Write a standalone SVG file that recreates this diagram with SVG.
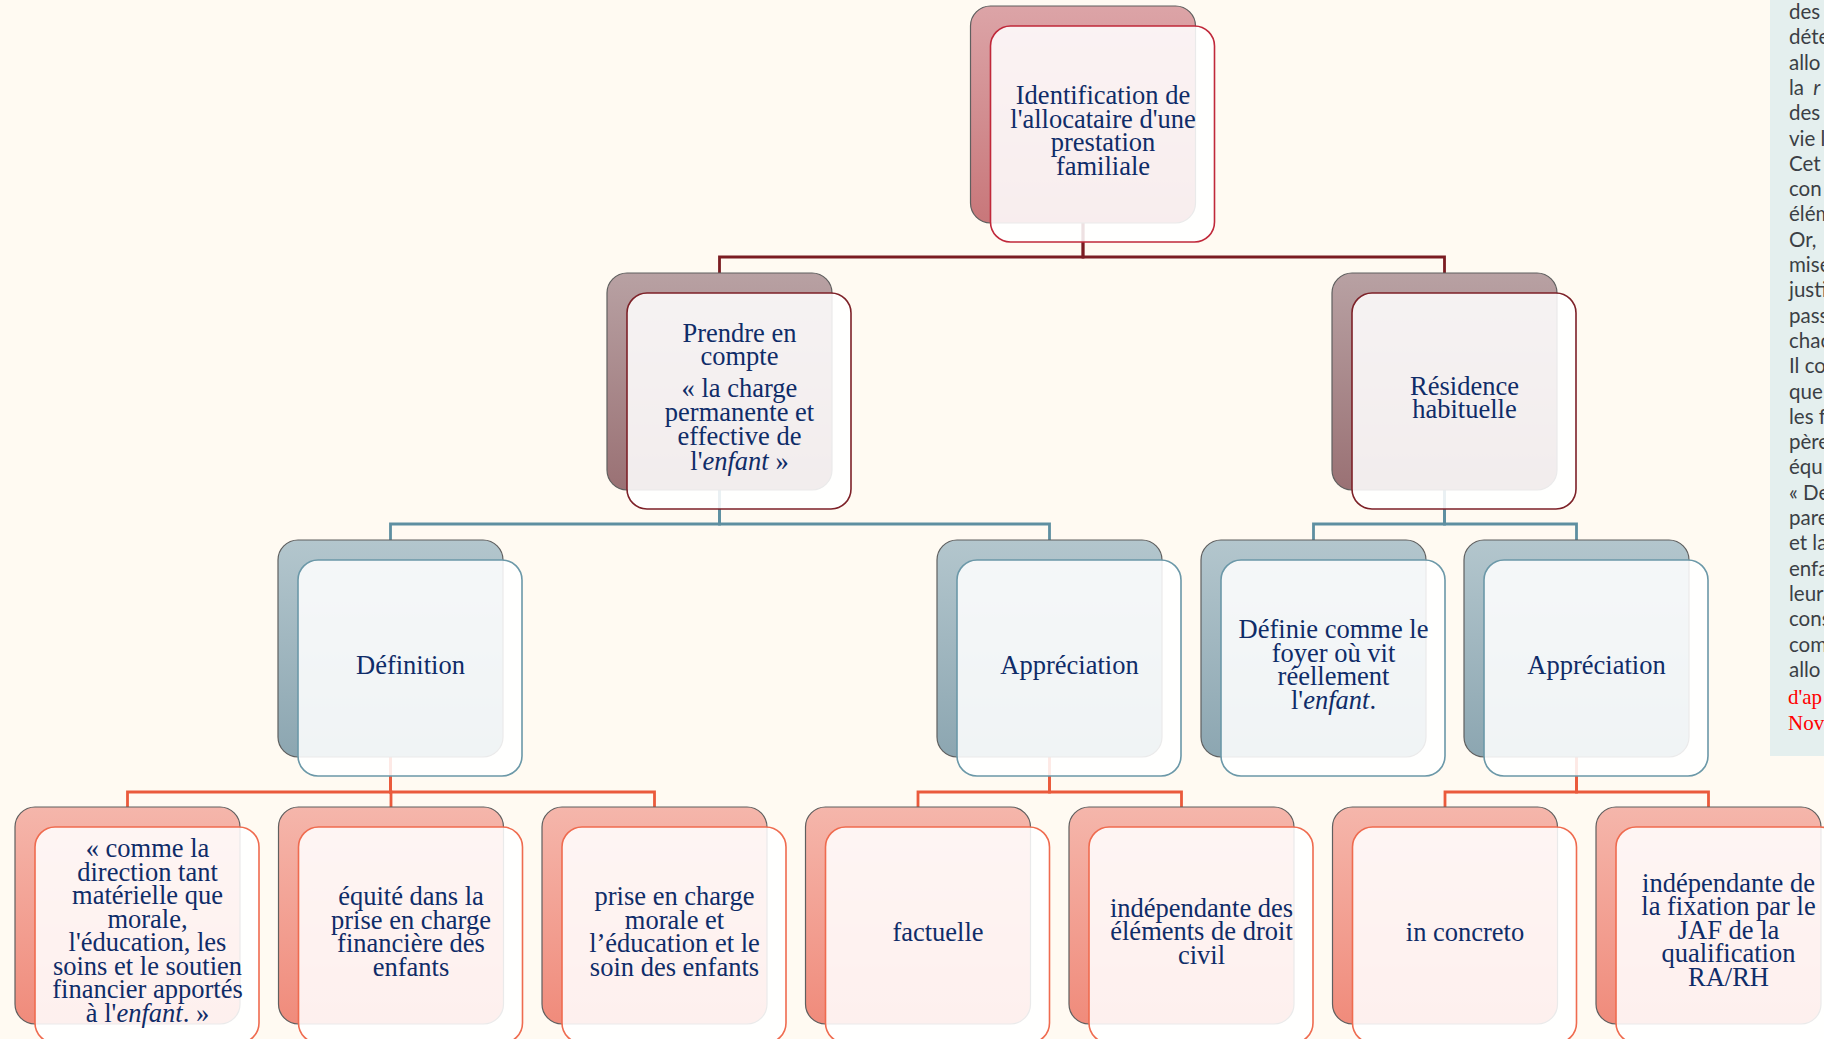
<svg xmlns="http://www.w3.org/2000/svg" width="1824" height="1039" viewBox="0 0 1824 1039">
<defs>
<linearGradient id="g1" x1="0" y1="0" x2="0" y2="1"><stop offset="0" stop-color="#dca4a7"/><stop offset="1" stop-color="#c8777a"/></linearGradient>
<linearGradient id="g2" x1="0" y1="0" x2="0" y2="1"><stop offset="0" stop-color="#b8a1a3"/><stop offset="1" stop-color="#9a7174"/></linearGradient>
<linearGradient id="g3" x1="0" y1="0" x2="0" y2="1"><stop offset="0" stop-color="#b3c6cd"/><stop offset="1" stop-color="#8ca6b1"/></linearGradient>
<linearGradient id="g4" x1="0" y1="0" x2="0" y2="1"><stop offset="0" stop-color="#f5b6ab"/><stop offset="1" stop-color="#f08b7b"/></linearGradient>
</defs>
<style>
.back{stroke:#5f5f5f;stroke-width:1.2}
.front{fill:#ffffff;fill-opacity:0.87;stroke-width:1.6}
.l1 .back{fill:url(#g1)} .l1 .front{stroke:#c0283a}
.l2 .back{fill:url(#g2)} .l2 .front{stroke:#7d2128}
.l3 .back{fill:url(#g3)} .l3 .front{stroke:#6b98a8}
.l4 .back{fill:url(#g4)} .l4 .front{stroke:#ef6b4f}
.t{font-family:"Liberation Serif","Times New Roman",serif;font-size:26.5px;fill:#0f2c68;text-anchor:middle}
.i{font-style:italic}
.c{fill:none;stroke-width:2.8}
.c1{stroke:#7b1c22}.c2{stroke:#5e8fa1}.c3{stroke:#ea5a3c}
.p{font-family:Lato,"Liberation Sans",sans-serif;font-size:20.5px;fill:#3b3f45}
.r{font-family:"Liberation Serif","Times New Roman",serif;font-size:21px;fill:#ff0000}
</style>
<rect x="0" y="0" width="1824" height="1039" fill="#fffaf2"/>
<g id="panel">
<rect x="1770" y="-2" width="60" height="758" fill="#e4efee"/>
<g class="p">
<text x="1789" y="19">des</text>
<text x="1789" y="44.3">déte</text>
<text x="1789" y="69.6">allo</text>
<text x="1789" y="94.9">la <tspan class="i" dx="4">r</tspan></text>
<text x="1789" y="120.2">des</text>
<text x="1789" y="145.5">vie l</text>
<text x="1789" y="170.8">Cet</text>
<text x="1789" y="196.1">con</text>
<text x="1789" y="221.4">élém</text>
<text x="1789" y="246.7">Or,</text>
<text x="1789" y="272">mise</text>
<text x="1789" y="297.3">justi</text>
<text x="1789" y="322.6">pass</text>
<text x="1789" y="347.9">chac</text>
<text x="1789" y="373.2">Il co</text>
<text x="1789" y="398.5">que</text>
<text x="1789" y="423.8">les f</text>
<text x="1789" y="449.1">père</text>
<text x="1789" y="474.4">équ</text>
<text x="1789" y="499.7">« De</text>
<text x="1789" y="525">pare</text>
<text x="1789" y="550.3">et la</text>
<text x="1789" y="575.6">enfa</text>
<text x="1789" y="600.9">leur</text>
<text x="1789" y="626.2">cons</text>
<text x="1789" y="651.5">com</text>
<text x="1789" y="676.8">allo</text>
</g>
<text class="r" x="1788" y="704">d'ap</text>
<text class="r" x="1788" y="730">Nov</text>
</g>
<g id="connectors">
<path class="c c1" d="M1083,223 V257 H719.5 V273"/>
<path class="c c1" d="M1083,223 V257 H1444.5 V273"/>
<path class="c c2" d="M719.5,490 V524 H390.5 V540"/>
<path class="c c2" d="M719.5,490 V524 H1049.5 V540"/>
<path class="c c2" d="M1444.5,490 V524 H1313.5 V540"/>
<path class="c c2" d="M1444.5,490 V524 H1576.5 V540"/>
<path class="c c3" d="M390.5,757 V792 H127.5 V807"/>
<path class="c c3" d="M390.5,757 V792 H391 V807"/>
<path class="c c3" d="M390.5,757 V792 H654.5 V807"/>
<path class="c c3" d="M1049.5,757 V792 H918 V807"/>
<path class="c c3" d="M1049.5,757 V792 H1181.5 V807"/>
<path class="c c3" d="M1576.5,757 V792 H1445 V807"/>
<path class="c c3" d="M1576.5,757 V792 H1708.5 V807"/>
</g>
<g id="n-identification" class="l1" transform="translate(970.5,6)">
<rect class="back" width="225" height="217" rx="20"/>
<rect class="front" x="20" y="20" width="224" height="216" rx="20"/>
<text class="t"><tspan x="132.5" y="98">Identification de</tspan><tspan x="132.5" y="121.7">l'allocataire d'une</tspan><tspan x="132.5" y="145.4">prestation</tspan><tspan x="132.5" y="169">familiale</tspan></text>
</g>
<g id="n-prendre" class="l2" transform="translate(607,273)">
<rect class="back" width="225" height="217" rx="20"/>
<rect class="front" x="20" y="20" width="224" height="216" rx="20"/>
<text class="t"><tspan x="132.5" y="68.5">Prendre en</tspan><tspan x="132.5" y="91.5">compte</tspan><tspan x="132.5" y="124">« la charge</tspan><tspan x="132.5" y="148.3">permanente et</tspan><tspan x="132.5" y="172.3">effective de</tspan><tspan x="132.5" y="196.6">l'<tspan class="i">enfant</tspan> »</tspan></text>
</g>
<g id="n-residence" class="l2" transform="translate(1332,273)">
<rect class="back" width="225" height="217" rx="20"/>
<rect class="front" x="20" y="20" width="224" height="216" rx="20"/>
<text class="t"><tspan x="132.5" y="122">Résidence</tspan><tspan x="132.5" y="145">habituelle</tspan></text>
</g>
<g id="n-definition" class="l3" transform="translate(278,540)">
<rect class="back" width="225" height="217" rx="20"/>
<rect class="front" x="20" y="20" width="224" height="216" rx="20"/>
<text class="t"><tspan x="132.5" y="134">Définition</tspan></text>
</g>
<g id="n-appreciation1" class="l3" transform="translate(937,540)">
<rect class="back" width="225" height="217" rx="20"/>
<rect class="front" x="20" y="20" width="224" height="216" rx="20"/>
<text class="t"><tspan x="132.5" y="134">Appréciation</tspan></text>
</g>
<g id="n-definie" class="l3" transform="translate(1201,540)">
<rect class="back" width="225" height="217" rx="20"/>
<rect class="front" x="20" y="20" width="224" height="216" rx="20"/>
<text class="t"><tspan x="132.5" y="98">Définie comme le</tspan><tspan x="132.5" y="121.6">foyer où vit</tspan><tspan x="132.5" y="145.2">réellement</tspan><tspan x="132.5" y="168.8">l'<tspan class="i">enfant</tspan>.</tspan></text>
</g>
<g id="n-appreciation2" class="l3" transform="translate(1464,540)">
<rect class="back" width="225" height="217" rx="20"/>
<rect class="front" x="20" y="20" width="224" height="216" rx="20"/>
<text class="t"><tspan x="132.5" y="134">Appréciation</tspan></text>
</g>
<g id="n-comme" class="l4" transform="translate(15,807)">
<rect class="back" width="225" height="217" rx="20"/>
<rect class="front" x="20" y="20" width="224" height="216" rx="20"/>
<text class="t"><tspan x="132.5" y="50">« comme la</tspan><tspan x="132.5" y="73.5">direction tant</tspan><tspan x="132.5" y="97">matérielle que</tspan><tspan x="132.5" y="120.5">morale,</tspan><tspan x="132.5" y="144">l'éducation, les</tspan><tspan x="132.5" y="167.5">soins et le soutien</tspan><tspan x="132.5" y="191">financier apportés</tspan><tspan x="132.5" y="214.5">à l'<tspan class="i">enfant</tspan>. »</tspan></text>
</g>
<g id="n-equite" class="l4" transform="translate(278.5,807)">
<rect class="back" width="225" height="217" rx="20"/>
<rect class="front" x="20" y="20" width="224" height="216" rx="20"/>
<text class="t"><tspan x="132.5" y="98">équité dans la</tspan><tspan x="132.5" y="121.6">prise en charge</tspan><tspan x="132.5" y="145.2">financière des</tspan><tspan x="132.5" y="168.8">enfants</tspan></text>
</g>
<g id="n-prise" class="l4" transform="translate(542,807)">
<rect class="back" width="225" height="217" rx="20"/>
<rect class="front" x="20" y="20" width="224" height="216" rx="20"/>
<text class="t"><tspan x="132.5" y="98">prise en charge</tspan><tspan x="132.5" y="121.6">morale et</tspan><tspan x="132.5" y="145.2">l’éducation et le</tspan><tspan x="132.5" y="168.8">soin des enfants</tspan></text>
</g>
<g id="n-factuelle" class="l4" transform="translate(805.5,807)">
<rect class="back" width="225" height="217" rx="20"/>
<rect class="front" x="20" y="20" width="224" height="216" rx="20"/>
<text class="t"><tspan x="132.5" y="133.5">factuelle</tspan></text>
</g>
<g id="n-independante-des" class="l4" transform="translate(1069,807)">
<rect class="back" width="225" height="217" rx="20"/>
<rect class="front" x="20" y="20" width="224" height="216" rx="20"/>
<text class="t"><tspan x="132.5" y="109.8">indépendante des</tspan><tspan x="132.5" y="133.4">éléments de droit</tspan><tspan x="132.5" y="157">civil</tspan></text>
</g>
<g id="n-concreto" class="l4" transform="translate(1332.5,807)">
<rect class="back" width="225" height="217" rx="20"/>
<rect class="front" x="20" y="20" width="224" height="216" rx="20"/>
<text class="t"><tspan x="132.5" y="133.5">in concreto</tspan></text>
</g>
<g id="n-independante-de" class="l4" transform="translate(1596,807)">
<rect class="back" width="225" height="217" rx="20"/>
<rect class="front" x="20" y="20" width="224" height="216" rx="20"/>
<text class="t"><tspan x="132.5" y="85">indépendante de</tspan><tspan x="132.5" y="108.4">la fixation par le</tspan><tspan x="132.5" y="131.8">JAF de la</tspan><tspan x="132.5" y="155.2">qualification</tspan><tspan x="132.5" y="178.6">RA/RH</tspan></text>
</g>
</svg>
